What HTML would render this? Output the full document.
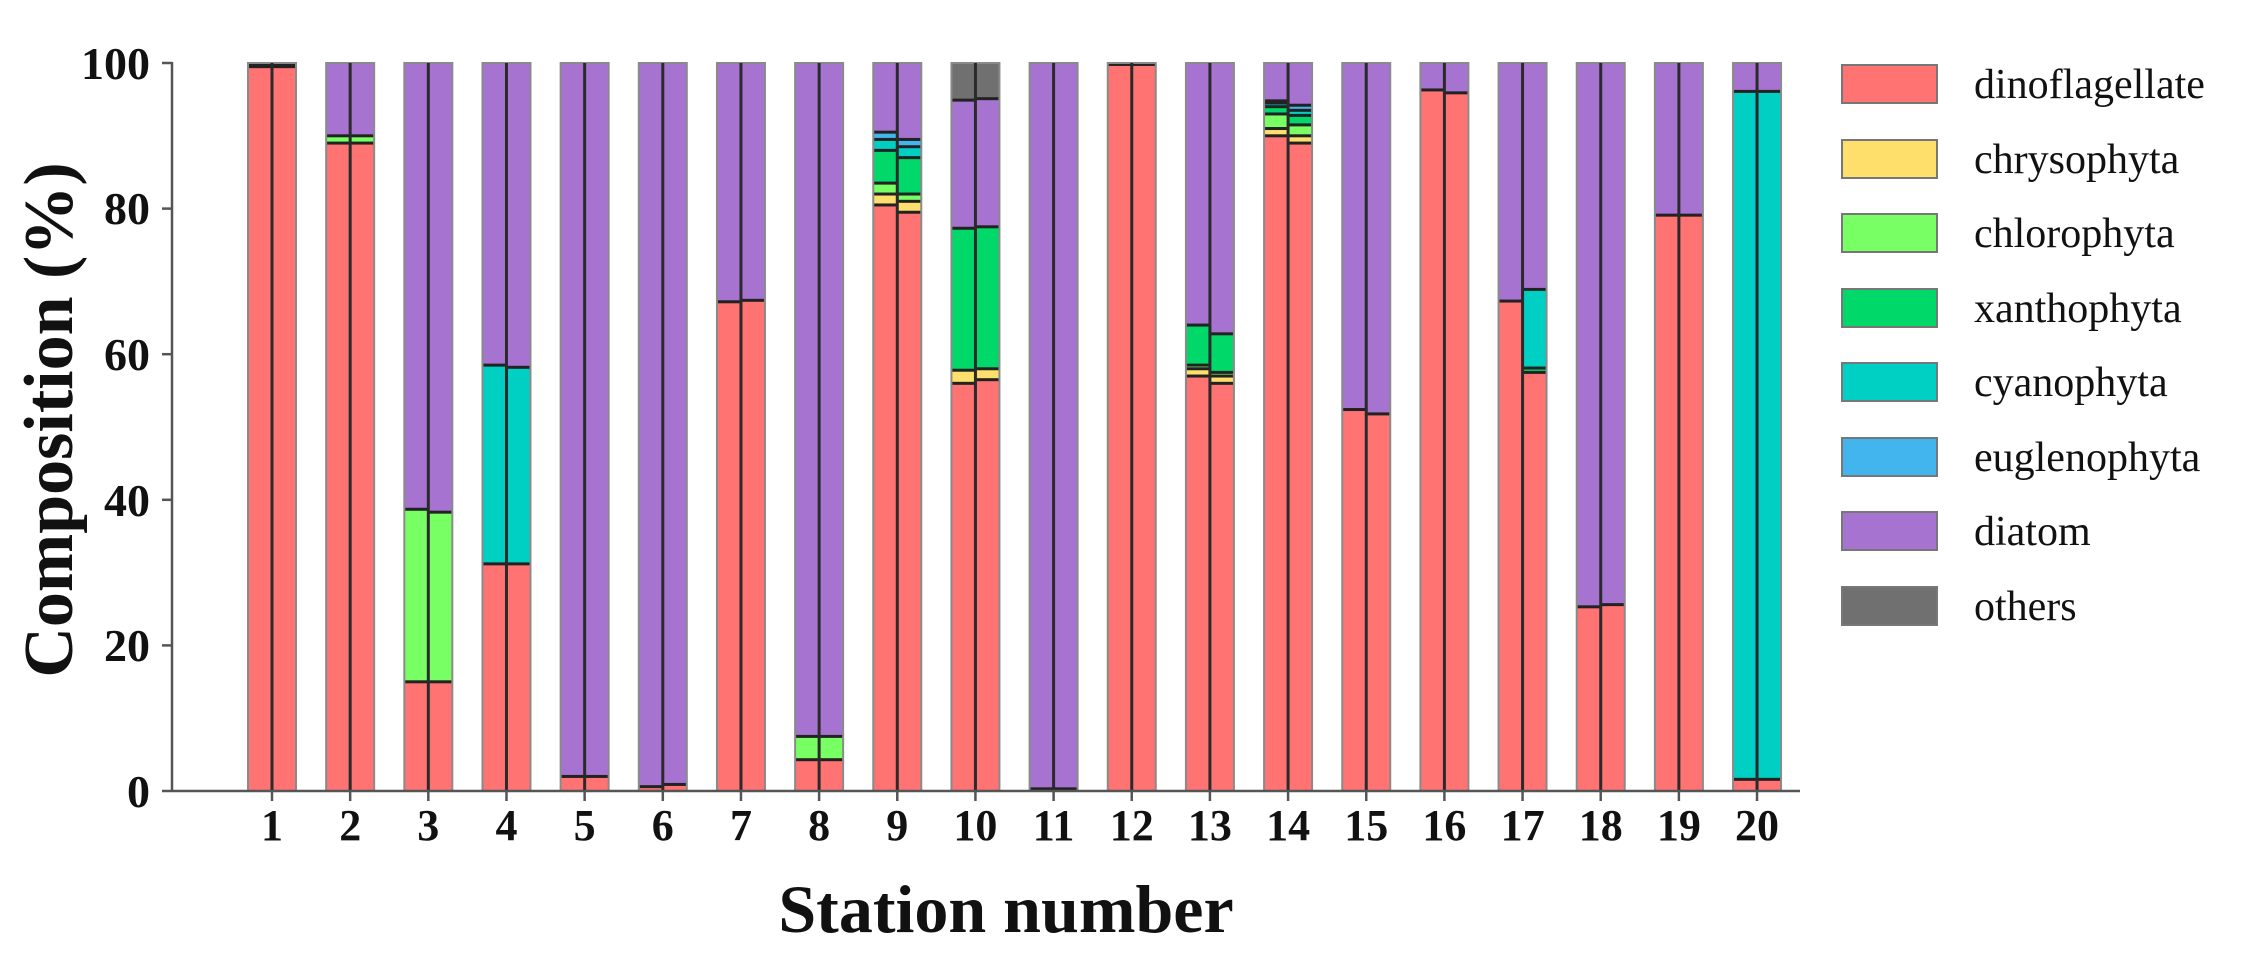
<!DOCTYPE html>
<html><head><meta charset="utf-8"><style>
html,body{margin:0;padding:0;background:#fff;}
svg{display:block;}
text{font-family:"Liberation Serif",serif;fill:#111;}
</style></head><body>
<svg id="s" width="2254" height="975" xmlns="http://www.w3.org/2000/svg">
<g id="bars"></g>
<line x1="172" y1="791" x2="1800" y2="791" stroke="#555" stroke-width="2.5"/>
<line x1="172" y1="62" x2="172" y2="792" stroke="#555" stroke-width="2.5"/>
<g stroke="#555" stroke-width="2.5">
<line x1="162" y1="63" x2="172" y2="63"/><line x1="162" y1="208.6" x2="172" y2="208.6"/>
<line x1="162" y1="354.2" x2="172" y2="354.2"/><line x1="162" y1="499.8" x2="172" y2="499.8"/>
<line x1="162" y1="645.4" x2="172" y2="645.4"/><line x1="162" y1="791" x2="172" y2="791"/>
</g>
<g font-size="46" font-weight="bold" text-anchor="end">
<text x="150" y="79">100</text><text x="150" y="224">80</text><text x="150" y="370">60</text>
<text x="150" y="516">40</text><text x="150" y="661">20</text><text x="150" y="807">0</text>
</g>
<g id="xl" font-size="44" font-weight="bold" text-anchor="middle"></g>
<text transform="translate(72,420) rotate(-90)" font-size="70" font-weight="bold" text-anchor="middle">Composition (%)</text>
<text x="1006" y="932" font-size="68" font-weight="bold" text-anchor="middle">Station number</text>
<g font-size="42">
<rect x="1842" y="65" width="95" height="38" fill="#ff7373" stroke="#777" stroke-width="2"/><text x="1974" y="98">dinoflagellate</text>
<rect x="1842" y="140" width="95" height="38" fill="#ffdf6b" stroke="#777" stroke-width="2"/><text x="1974" y="173">chrysophyta</text>
<rect x="1842" y="214" width="95" height="38" fill="#78ff64" stroke="#777" stroke-width="2"/><text x="1974" y="247">chlorophyta</text>
<rect x="1842" y="289" width="95" height="38" fill="#00d96a" stroke="#777" stroke-width="2"/><text x="1974" y="322">xanthophyta</text>
<rect x="1842" y="363" width="95" height="38" fill="#00cfc4" stroke="#777" stroke-width="2"/><text x="1974" y="396">cyanophyta</text>
<rect x="1842" y="438" width="95" height="38" fill="#42b4ee" stroke="#777" stroke-width="2"/><text x="1974" y="471">euglenophyta</text>
<rect x="1842" y="512" width="95" height="38" fill="#a674d0" stroke="#777" stroke-width="2"/><text x="1974" y="545">diatom</text>
<rect x="1842" y="587" width="95" height="38" fill="#707070" stroke="#777" stroke-width="2"/><text x="1974" y="620">others</text>
</g>
</svg>
<script>
var C=['#ff7373','#ffdf6b','#78ff64','#00d96a','#00cfc4','#42b4ee','#a674d0','#707070'];
// per bar: [leftHalf, rightHalf], each list of [colorIdx,value]; diatom fills rest unless others given
var D=[
[[[0,99.5]],[[0,99.5]]],
[[[0,89],[2,1]],[[0,89],[2,1]]],
[[[0,15],[2,23.7]],[[0,15],[2,23.3]]],
[[[0,31.2],[4,27.3]],[[0,31.2],[4,27]]],
[[[0,2]],[[0,2]]],
[[[0,0.6]],[[0,0.9]]],
[[[0,67.2]],[[0,67.4]]],
[[[0,4.3],[2,3.2]],[[0,4.3],[2,3.2]]],
[[[0,80.5],[1,1.5],[2,1.5],[3,4.5],[4,1.5],[5,1]],[[0,79.5],[1,1.5],[2,1],[3,5],[4,1.5],[5,1]]],
[[[0,56],[1,1.8],[3,19.5],[6,17.6],[7,5.1]],[[0,56.5],[1,1.5],[3,19.5],[6,17.6],[7,4.9]]],
[[[0,0.3]],[[0,0.3]]],
[[[0,99.8]],[[0,99.8]]],
[[[0,57],[1,1],[2,0.5],[3,5.5]],[[0,56],[1,1],[2,0.5],[3,5.3]]],
[[[0,90],[1,1],[2,2],[3,1],[4,0.5],[5,0.3]],[[0,89],[1,1],[2,1.5],[3,1.3],[4,0.7],[5,0.7]]],
[[[0,52.4]],[[0,51.8]]],
[[[0,96.3]],[[0,95.9]]],
[[[0,67.3]],[[0,57.5],[3,0.6],[4,10.8]]],
[[[0,25.3]],[[0,25.6]]],
[[[0,79.1]],[[0,79.1]]],
[[[0,1.6],[4,94.5]],[[0,1.6],[4,94.5]]]
];
var g=document.getElementById('bars'),xl=document.getElementById('xl'),ns='http://www.w3.org/2000/svg';
function Y(v){return 791-7.28*v;}
function R(x,y,w,h,f,st,sw){var r=document.createElementNS(ns,'rect');r.setAttribute('x',x);r.setAttribute('y',y);r.setAttribute('width',w);r.setAttribute('height',Math.max(h,0));r.setAttribute('fill',f);if(st){r.setAttribute('stroke',st);r.setAttribute('stroke-width',sw);}g.appendChild(r);}
for(var i=0;i<20;i++){
 var cx=272+i*78.16;
 for(var h=0;h<2;h++){
  var x=cx-24+h*24,cum=0,segs=D[i][h].slice(),hasO=segs.some(function(s){return s[0]==7;});
  segs.forEach(function(s){R(x,Y(cum+s[1]),24,7.28*s[1],C[s[0]]);cum+=s[1];});
  if(!hasO&&cum<100){R(x,Y(100),24,Y(cum)-Y(100),C[6]);}
  cum=0;segs.forEach(function(s){cum+=s[1];if(cum<99.9)R(x,Y(cum)-1.5,24,3,'#222');});
  if(i==0){R(x,Y(100),24,3,'#222');}
 }
 R(cx-24,63,48,728,'none','#8a8a8a',2);
 R(cx-1.5,63,3,728,'#2a2a2a');
 var l=document.createElementNS(ns,'line');l.setAttribute('x1',cx);l.setAttribute('x2',cx);l.setAttribute('y1',791);l.setAttribute('y2',801);l.setAttribute('stroke','#555');l.setAttribute('stroke-width',2.5);g.appendChild(l);
}
</script>
<svg width="0" height="0" style="position:absolute"></svg>
<div style="position:absolute;left:0;top:0;width:2254px;height:975px;pointer-events:none">
<svg width="2254" height="975" style="position:absolute;left:0;top:0" font-family="Liberation Serif, serif" font-size="44" font-weight="bold" text-anchor="middle">
<text x="272" y="840">1</text><text x="350.2" y="840">2</text><text x="428.3" y="840">3</text><text x="506.5" y="840">4</text><text x="584.6" y="840">5</text>
<text x="662.8" y="840">6</text><text x="741" y="840">7</text><text x="819.1" y="840">8</text><text x="897.3" y="840">9</text><text x="975.4" y="840">10</text>
<text x="1053.6" y="840">11</text><text x="1131.8" y="840">12</text><text x="1209.9" y="840">13</text><text x="1288.1" y="840">14</text><text x="1366.2" y="840">15</text>
<text x="1444.4" y="840">16</text><text x="1522.6" y="840">17</text><text x="1600.7" y="840">18</text><text x="1678.9" y="840">19</text><text x="1757" y="840">20</text>
</svg></div>
</body></html>
